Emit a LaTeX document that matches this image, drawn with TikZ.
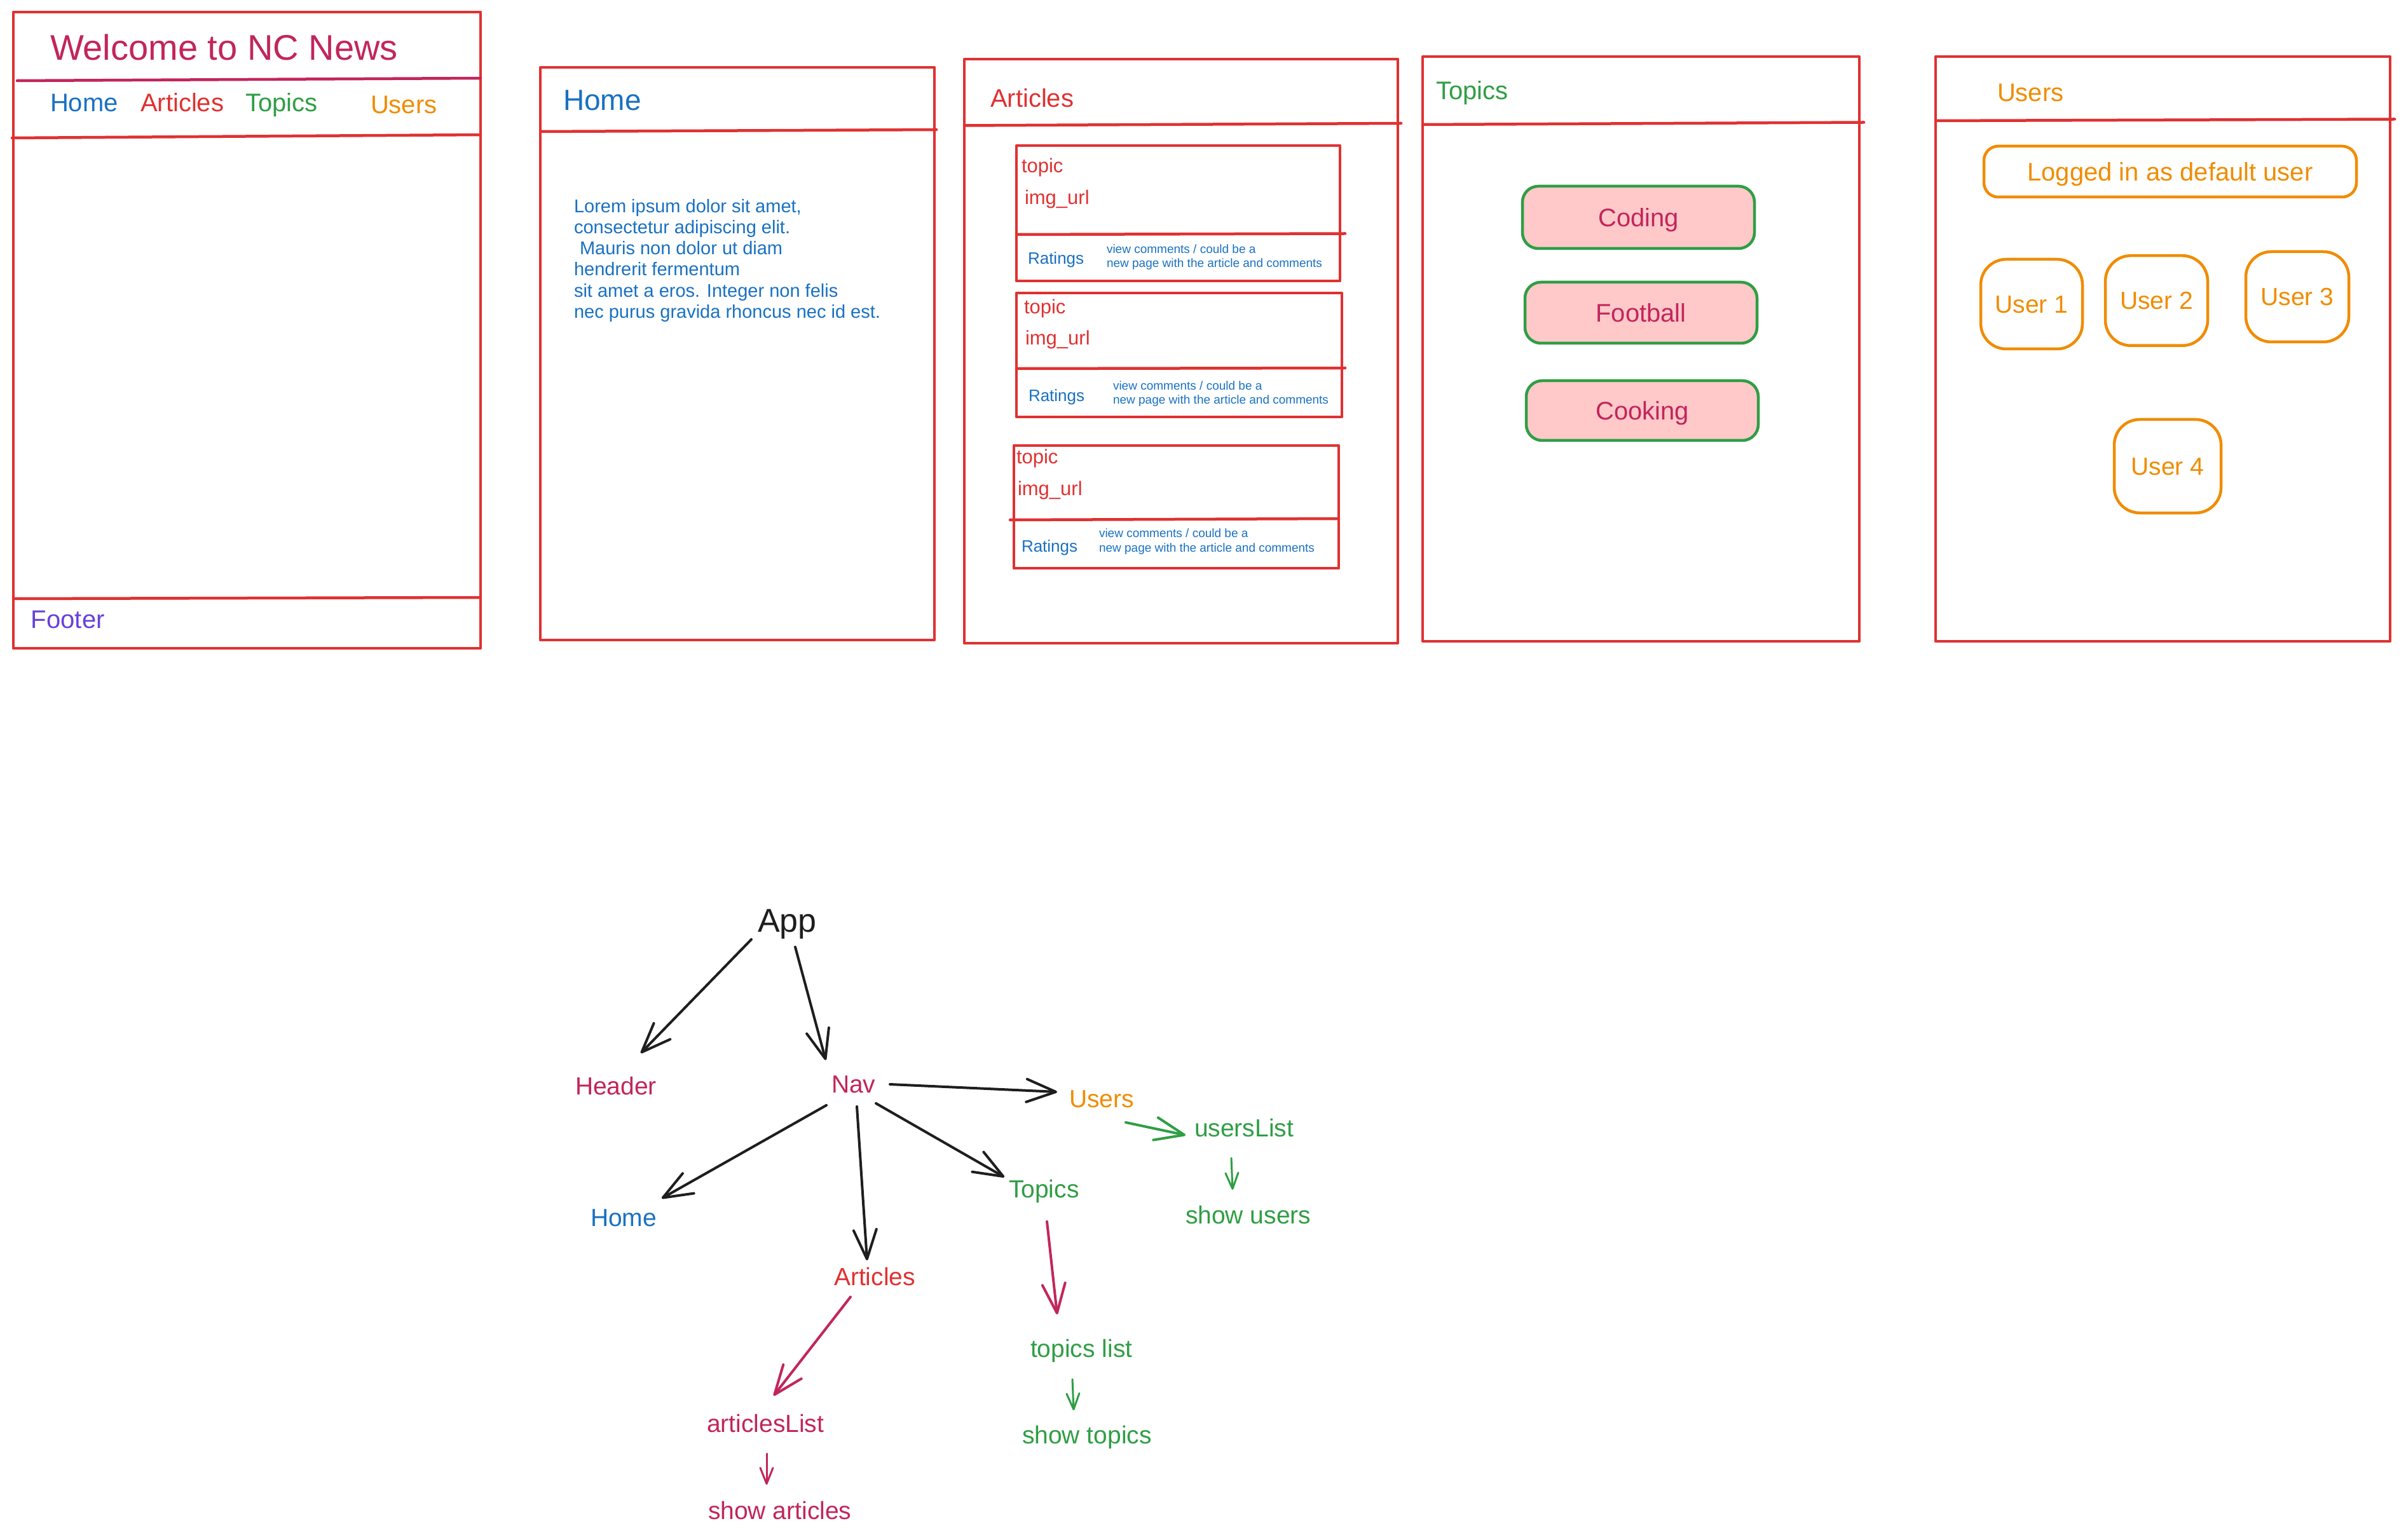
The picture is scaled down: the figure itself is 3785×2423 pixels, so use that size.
\documentclass[tikz,border=0pt]{standalone}
\usepackage{fontspec}
\setmainfont{Liberation Sans}
\usetikzlibrary{arrows.meta,calc}
\definecolor{exred}{HTML}{E03131}
\definecolor{excrimson}{HTML}{C2255C}
\definecolor{exblue}{HTML}{1971C2}
\definecolor{exgreen}{HTML}{2F9E44}
\definecolor{exorange}{HTML}{F08C00}
\definecolor{expurple}{HTML}{6741D9}
\definecolor{expink}{HTML}{FFC9C9}
\definecolor{exink}{HTML}{1E1E1E}
\newcommand\pxfont[1]{\fontsize{#1}{#1}\selectfont}
\begin{document}
\begin{tikzpicture}[x=0.2pt,y=-0.2pt,
  panel/.style={draw=exred,line width=0.9pt,line cap=round,line join=round},
  lbl/.style={inner sep=0pt,anchor=base west},
  f56/.style={font=\pxfont{11.2pt}},
  f46/.style={font=\pxfont{9.2pt}},
  f40/.style={font=\pxfont{8pt}},
  f39/.style={font=\pxfont{7.8pt}},
  f52/.style={font=\pxfont{10.4pt}},
  f31/.style={font=\pxfont{6.2pt}},
  f29/.style={font=\pxfont{5.8pt}},
  f26/.style={font=\pxfont{5.2pt}},
  f19/.style={font=\pxfont{3.8pt}},
  topicbtn/.style={draw=exgreen,fill=expink,line width=0.9pt,rounded corners=5pt,
    inner sep=0pt,text=excrimson,font=\pxfont{8pt},text height=5.73pt,text depth=0pt},
  userbox/.style={draw=exorange,line width=0.9pt,rounded corners=8pt,
    inner sep=0pt,text=exorange,font=\pxfont{7.8pt},text height=5.6pt,text depth=0pt},
  loggedbox/.style={draw=exorange,line width=0.9pt,rounded corners=4.5pt,
    inner sep=0pt,text=exorange,font=\pxfont{8pt},text height=5.73pt,text depth=0pt},
  bigarrow/.style={-{Straight Barb[length=9.2pt,width=7.2pt,line cap=round,line join=round]},
    line width=0.8pt,line cap=round},
  smallarrow/.style={-{Straight Barb[length=5pt,width=4pt,line cap=round,line join=round]},
    line width=0.6pt,line cap=round},
]
\useasboundingbox[fill=white] (0,0) rectangle (3785,2423);

% ---------- Panel 1: layout ----------
\draw[panel] (21,19) rectangle (756,1020);
\draw[panel,draw=excrimson] (27,127) -- (756,123);
\draw[panel] (19,217) -- (756,212);
\draw[panel] (21,942) -- (756,940);
\node[lbl,f56,text=excrimson] (title) at (78,95) {Welcome to NC News};
\node[lbl,f40,text=exblue] (navhome) at (78,176) {Home};
\node[lbl,f40,text=exred] (navarticles) at (220,176) {Articles};
\node[lbl,f40,text=exgreen] (navtopics) at (385,176) {Topics};
\node[lbl,f40,text=exorange] (navusers) at (582,179) {Users};
\node[lbl,f40,text=expurple] (footer) at (48,988) {Footer};

% ---------- Panel 2: Home ----------
\draw[panel] (850,106) rectangle (1470,1007);
\draw[panel] (850,207) -- (1473,204);
\node[lbl,f46,text=exblue] (hometitle) at (885,174) {Home};
\node[lbl,f29,text=exblue] (lorem1) at (902,335) {Lorem ipsum dolor sit amet,};
\node[lbl,f29,text=exblue] (lorem2) at (902,368) {consectetur adipiscing elit.};
\node[lbl,f29,text=exblue] (lorem3) at (911,401) {Mauris non dolor ut diam};
\node[lbl,f29,text=exblue] (lorem4) at (902,434) {hendrerit fermentum};
\node[lbl,f29,text=exblue] (lorem5) at (902,468) {sit amet a eros. Integer non felis};
\node[lbl,f29,text=exblue] (lorem6) at (902,501) {nec purus gravida rhoncus nec id est.};

% ---------- Panel 3: Articles ----------
\draw[panel] (1517,93) rectangle (2199,1012);
\draw[panel] (1517,197.5) -- (2204,194);
\node[lbl,f40,text=exred] (arttitle) at (1557,169) {Articles};
% card 1
\draw[panel] (1599,229) rectangle (2108,442);
\draw[panel] (1599,369) -- (2116,367.5);
\node[lbl,f31,text=exred] (topic1) at (1606,272) {topic};
\node[lbl,f31,text=exred] (img1) at (1611,322) {img\_url};
\node[lbl,f26,text=exblue] (rat1) at (1616,416) {Ratings};
\node[lbl,f19,text=exblue] (view1a) at (1740,399) {view comments / could be a};
\node[lbl,f19,text=exblue] (view1b) at (1740,421) {new page with the article and comments};
% card 2
\draw[panel] (1599,461) rectangle (2111,656);
\draw[panel] (1599,580) -- (2116,579);
\node[lbl,f31,text=exred] (topic2) at (1610,494) {topic};
\node[lbl,f31,text=exred] (img2) at (1612,543) {img\_url};
\node[lbl,f26,text=exblue] (rat2) at (1617,632) {Ratings};
\node[lbl,f19,text=exblue] (view2a) at (1750,614) {view comments / could be a};
\node[lbl,f19,text=exblue] (view2b) at (1750,636) {new page with the article and comments};
% card 3
\draw[panel] (1595,701) rectangle (2106,894);
\draw[panel] (1589,818) -- (2106,816);
\node[lbl,f31,text=exred] (topic3) at (1598,730) {topic};
\node[lbl,f31,text=exred] (img3) at (1600,779) {img\_url};
\node[lbl,f26,text=exblue] (rat3) at (1606,868) {Ratings};
\node[lbl,f19,text=exblue] (view3a) at (1728,846) {view comments / could be a};
\node[lbl,f19,text=exblue] (view3b) at (1728,868) {new page with the article and comments};

% ---------- Panel 4: Topics ----------
\draw[panel] (2238,89) rectangle (2925,1009);
\draw[panel] (2238,196) -- (2932,192.5);
\node[lbl,f40,text=exgreen] (toptitle) at (2258,157) {Topics};
\node[topicbtn,minimum width=73pt,minimum height=19.6pt] (coding) at (2577.5,342) {Coding};
\node[topicbtn,minimum width=73pt,minimum height=19.2pt] (football) at (2581.5,492) {Football};
\node[topicbtn,minimum width=73pt,minimum height=18.8pt] (cooking) at (2583.5,646) {Cooking};

% ---------- Panel 5: Users ----------
\draw[panel] (3045,89) rectangle (3760,1009);
\draw[panel] (3045,190) -- (3767,187.5);
\node[lbl,f40,text=exorange] (usrtitle) at (3141,160) {Users};
\node[loggedbox,minimum width=117.2pt,minimum height=16pt] (logged) at (3414,270) {Logged in as default user};
\node[userbox,minimum width=32pt,minimum height=28.2pt] (user1) at (3196,478.5) {User 1};
\node[userbox,minimum width=32.2pt,minimum height=28.3pt] (user2) at (3392.5,473) {User 2};
\node[userbox,minimum width=32.4pt,minimum height=28.4pt] (user3) at (3614,467) {User 3};
\node[userbox,minimum width=33.6pt,minimum height=29.4pt] (user4) at (3410,733.5) {User 4};

% ---------- Component tree ----------
\node[lbl,f52,text=exink] (app) at (1191,1466.5) {App};
\node[lbl,f39,text=excrimson] (header) at (904,1722.5) {Header};
\node[lbl,f39,text=excrimson] (nav) at (1307,1719) {Nav};
\node[lbl,f39,text=exorange] (usersN) at (1681,1742.5) {Users};
\node[lbl,f39,text=exgreen] (userslist) at (1878,1788) {usersList};
\node[lbl,f39,text=exgreen] (showusers) at (1864,1925) {show users};
\node[lbl,f39,text=exblue] (homeN) at (928,1929) {Home};
\node[lbl,f39,text=exred] (articlesN) at (1311,2022) {Articles};
\node[lbl,f39,text=exgreen] (topicsN) at (1586,1884) {Topics};
\node[lbl,f39,text=exgreen] (topicslist) at (1620,2135) {topics list};
\node[lbl,f39,text=exgreen] (showtopics) at (1607,2271) {show topics};
\node[lbl,f39,text=excrimson] (articleslist) at (1111,2253) {articlesList};
\node[lbl,f39,text=excrimson] (showarticles) at (1113,2390) {show articles};

\draw[bigarrow,exink] ($(app.base west)+(-9,11.5)$) -- ($(header.base west)+(104,-65.5)$);
\draw[bigarrow,exink] ($(app.base west)+(60,23.5)$) -- ($(nav.base west)+(-8,-51)$);
\draw[bigarrow,exink] ($(nav.base west)+(93,-13)$) -- ($(usersN.base west)+(-18,-24.5)$);
\draw[bigarrow,exink] ($(nav.base west)+(-7,20)$) -- ($(homeN.base west)+(113,-43.5)$);
\draw[bigarrow,exink] ($(nav.base west)+(41,22)$) -- ($(articlesN.base west)+(53,-39)$);
\draw[bigarrow,exink] ($(nav.base west)+(71,17)$) -- ($(topicsN.base west)+(-6,-32)$);
\draw[bigarrow,exgreen] ($(usersN.base west)+(90,23.5)$) -- ($(userslist.base west)+(-13,-2)$);
\draw[smallarrow,exgreen] ($(userslist.base west)+(59,34)$) -- ($(showusers.base west)+(75,-53)$);
\draw[bigarrow,excrimson] ($(topicsN.base west)+(61,38)$) -- ($(topicslist.base west)+(43,-67)$);
\draw[smallarrow,exgreen] ($(topicslist.base west)+(67,35)$) -- ($(showtopics.base west)+(82,-52)$);
\draw[bigarrow,excrimson] ($(articlesN.base west)+(27,18.5)$) -- ($(articleslist.base west)+(106,-57)$);
\draw[smallarrow,excrimson] ($(articleslist.base west)+(95,34)$) -- ($(showarticles.base west)+(93,-54)$);
\end{tikzpicture}
\end{document}
